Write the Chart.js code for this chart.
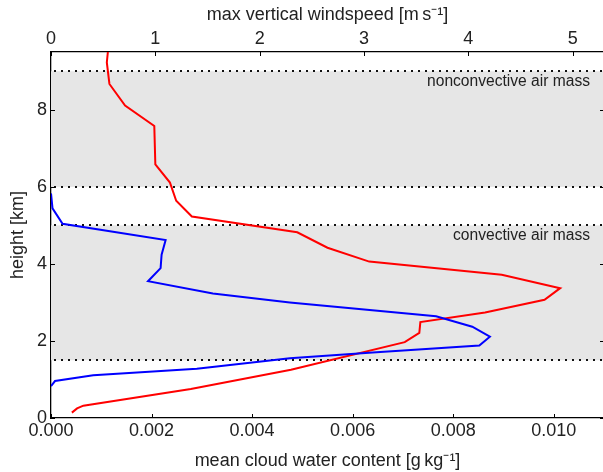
<!DOCTYPE html>
<html>
<head>
<meta charset="utf-8">
<script src="https://cdn.jsdelivr.net/npm/chart.js@4"></script>
<style>
    html, body { margin: 0; padding: 0; background: #fff; overflow: hidden; }
    canvas { display: block; }
</style>
</head>
<body>
<canvas id="profileChart" width="604" height="472" style="width:604px;height:472px"></canvas>
<script>
// mean cloud water content (bottom axis), g/kg
const cloudHeight = [0.83, 0.96, 1.11, 1.28, 1.55, 1.70, 1.88, 2.11, 2.37, 2.64, 3.0, 3.23, 3.55, 3.89, 4.24, 4.62, 5.04, 5.44, 5.83];
const cloudWater = [0, 0.00008, 0.00084, 0.0029, 0.00475, 0.0064, 0.00852, 0.00873, 0.00838, 0.00766, 0.00475, 0.00322, 0.00193, 0.00218, 0.0022, 0.00228, 0.00023, 0.00003, 0];

// max vertical windspeed (top axis), m/s
const windHeight = [0.14, 0.25, 0.32, 0.75, 1.25, 1.97, 2.21, 2.49, 2.74, 3.07, 3.37, 3.72, 4.06, 4.42, 4.82, 5.23, 5.64, 6.11, 6.58, 7.58, 8.11, 8.67, 9.23, 9.5];
const windSpeed = [0.20, 0.25, 0.31, 1.34, 2.30, 3.39, 3.53, 3.54, 4.16, 4.73, 4.88, 4.32, 3.05, 2.65, 2.36, 1.35, 1.20, 1.14, 1.00, 0.99, 0.71, 0.56, 0.535, 0.545];

// air mass layers, km
const bandBottom = [1.5, 6];
const bandTop = [5, 9];
const bandLabels = ['convective air mass', 'nonconvective air mass'];

// ticks
const cloudTicks = [0, 0.002, 0.004, 0.006, 0.008, 0.010];
const windTicks = [0, 1, 2, 3, 4, 5];
const heightTicks = [0, 2, 4, 6, 8];

const FONT = 'Liberation Sans, Arial, sans-serif';
const TEXT = '#222';

const toPoints = (xs, ys) => xs.map((x, i) => ({x: x, y: ys[i]}));
const fixTicks = (values) => (scale) => {
    scale.ticks = values.map((v) => ({value: v}));
};

// gray layers, dotted boundaries and their labels
const bandsPlugin = {
    id: 'bands',
    beforeDatasetsDraw(chart) {
        const {ctx, chartArea} = chart;
        const y = chart.scales.y;
        ctx.save();
        ctx.fillStyle = '#e6e6e6';
        bandBottom.forEach((b, i) => {
            const top = y.getPixelForValue(bandTop[i]);
            const bottom = y.getPixelForValue(b);
            ctx.fillRect(chartArea.left, top, chartArea.right - chartArea.left, bottom - top);
        });
        ctx.strokeStyle = '#111';
        ctx.lineWidth = 2;
        ctx.setLineDash([2, 5]);
        [...bandBottom, ...bandTop].forEach((h) => {
            const py = Math.round(y.getPixelForValue(h));
            ctx.beginPath();
            ctx.moveTo(chartArea.left + 3, py);
            ctx.lineTo(chartArea.right, py);
            ctx.stroke();
        });
        ctx.setLineDash([]);
        ctx.fillStyle = TEXT;
        ctx.font = '15.6px ' + FONT;
        ctx.textAlign = 'right';
        ctx.textBaseline = 'alphabetic';
        bandLabels.forEach((label, i) => {
            ctx.fillText(label, chartArea.right - 14, y.getPixelForValue(bandTop[i]) + 15);
        });
        ctx.restore();
    },
    afterDraw(chart) {
        // inward ticks on all four sides
        const {ctx, chartArea} = chart;
        const {x, x2, y} = chart.scales;
        const len = 4;
        ctx.save();
        ctx.strokeStyle = '#000';
        ctx.lineWidth = 1;
        ctx.beginPath();
        cloudTicks.forEach((v) => {
            const px = Math.round(x.getPixelForValue(v)) + 0.5;
            ctx.moveTo(px, chartArea.bottom);
            ctx.lineTo(px, chartArea.bottom - len);
        });
        windTicks.forEach((v) => {
            const px = Math.round(x2.getPixelForValue(v)) + 0.5;
            ctx.moveTo(px, chartArea.top);
            ctx.lineTo(px, chartArea.top + len);
        });
        heightTicks.forEach((v) => {
            const py = Math.round(y.getPixelForValue(v)) + 0.5;
            ctx.moveTo(chartArea.left, py);
            ctx.lineTo(chartArea.left + len, py);
            ctx.moveTo(chartArea.right, py);
            ctx.lineTo(chartArea.right - len, py);
        });
        ctx.stroke();
        ctx.restore();
    },
};

const ctx = document.getElementById('profileChart').getContext('2d');

new Chart(ctx, {
    type: 'scatter',
    data: {
        datasets: [
            {
                label: 'mean cloud water content',
                data: toPoints(cloudWater, cloudHeight),
                xAxisID: 'x',
                yAxisID: 'y',
                showLine: true,
                borderColor: '#0000ff',
                borderWidth: 2,
                pointRadius: 0,
                tension: 0,
            },
            {
                label: 'max vertical windspeed',
                data: toPoints(windSpeed, windHeight),
                xAxisID: 'x2',
                yAxisID: 'y',
                showLine: true,
                borderColor: '#ff0000',
                borderWidth: 2,
                pointRadius: 0,
                tension: 0,
            },
        ],
    },
    options: {
        responsive: false,
        animation: false,
        devicePixelRatio: 1,
        layout: {padding: 0},
        plugins: {
            legend: {display: false},
            tooltip: {enabled: false},
        },
        scales: {
            x: {
                type: 'linear',
                position: 'bottom',
                min: 0,
                max: 0.011,
                afterBuildTicks: fixTicks(cloudTicks),
                afterFit: (scale) => { scale.height = 54; },
                grid: {display: false, drawTicks: false},
                border: {display: true, color: '#000', width: 1.3},
                ticks: {
                    padding: 2,
                    color: TEXT,
                    font: {family: FONT, size: 18},
                    maxRotation: 0,
                    callback: (v) => Number(v).toFixed(3),
                },
                title: {
                    display: true,
                    text: 'mean cloud water content [g\u2009kg\u207B\u00B9]',
                    color: TEXT,
                    font: {family: FONT, size: 18},
                    padding: {top: 0, bottom: 0},
                },
            },
            x2: {
                type: 'linear',
                position: 'top',
                min: 0,
                max: 5.3,
                afterBuildTicks: fixTicks(windTicks),
                afterFit: (scale) => { scale.height = 52; },
                grid: {display: false, drawTicks: false},
                border: {display: true, color: '#000', width: 1.3},
                ticks: {
                    padding: 2,
                    color: TEXT,
                    font: {family: FONT, size: 18},
                    maxRotation: 0,
                    callback: (v) => String(v),
                },
                title: {
                    display: true,
                    text: 'max vertical windspeed [m\u2009s\u207B\u00B9]',
                    color: TEXT,
                    font: {family: FONT, size: 18},
                    padding: {top: 4, bottom: 0},
                },
            },
            y: {
                type: 'linear',
                position: 'left',
                min: 0,
                max: 9.5,
                afterBuildTicks: fixTicks(heightTicks),
                afterFit: (scale) => { scale.width = 51; },
                grid: {display: false, drawTicks: false},
                border: {display: true, color: '#000', width: 1.3},
                ticks: {
                    padding: 4,
                    color: TEXT,
                    font: {family: FONT, size: 18},
                    callback: (v) => String(v),
                },
                title: {
                    display: true,
                    text: 'height [km]',
                    color: TEXT,
                    font: {family: FONT, size: 18},
                    padding: {top: 7, bottom: 0},
                },
            },
        },
    },
    plugins: [bandsPlugin],
});
</script>
</body>
</html>
